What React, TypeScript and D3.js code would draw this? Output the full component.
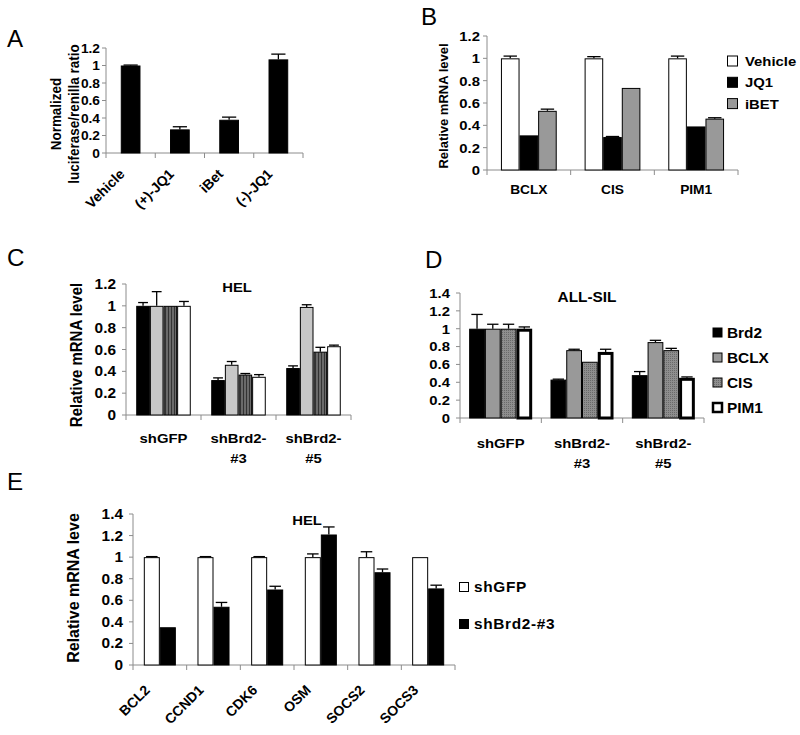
import React from 'react';
import * as d3 from 'd3';

// ---------- DATA ----------
const aCategories = ['Vehicle', '(+)-JQ1', 'iBet', '(-)-JQ1'];
const aValues = [1.0, 0.27, 0.38, 1.07];
const aErrors = [0.005, 0.03, 0.03, 0.06];
const aTicks = [0, 0.2, 0.4, 0.6, 0.8, 1, 1.2];

const bCategories = ['BCLX', 'CIS', 'PIM1'];
const bSeriesNames = ['Vehicle', 'JQ1', 'iBET'];
const bVehicle = [1.0, 1.0, 1.0];
const bVehicleErr = [0.02, 0.015, 0.02];
const bJQ1 = [0.31, 0.295, 0.39];
const bJQ1Err = [0, 0.005, 0];
const bIBET = [0.53, 0.735, 0.46];
const bIBETErr = [0.015, 0, 0.008];
const bTicks = [0, 0.2, 0.4, 0.6, 0.8, 1, 1.2];

const cCategories = [['shGFP'], ['shBrd2-', '#3'], ['shBrd2-', '#5']];
const cSeries1 = [1.0, 0.32, 0.43];
const cSeries1Err = [0.03, 0.02, 0.02];
const cSeries2 = [1.0, 0.46, 0.99];
const cSeries2Err = [0.13, 0.03, 0.02];
const cSeries3 = [1.0, 0.37, 0.58];
const cSeries3Err = [0, 0.01, 0.04];
const cSeries4 = [1.0, 0.35, 0.63];
const cSeries4Err = [0.04, 0.02, 0.01];
const cTicks = [0, 0.2, 0.4, 0.6, 0.8, 1, 1.2];

const dCategories = [['shGFP'], ['shBrd2-', '#3'], ['shBrd2-', '#5']];
const dSeriesNames = ['Brd2', 'BCLX', 'CIS', 'PIM1'];
const dBrd2 = [1.0, 0.43, 0.48];
const dBrd2Err = [0.16, 0.005, 0.04];
const dBCLX = [1.0, 0.76, 0.85];
const dBCLXErr = [0.05, 0.01, 0.02];
const dCIS = [1.0, 0.63, 0.76];
const dCISErr = [0.05, 0, 0.02];
const dPIM1 = [1.0, 0.74, 0.45];
const dPIM1Err = [0.02, 0.03, 0.01];
const dTicks = [0, 0.2, 0.4, 0.6, 0.8, 1, 1.2, 1.4];

const eCategories = ['BCL2', 'CCND1', 'CDK6', 'OSM', 'SOCS2', 'SOCS3'];
const eSeriesNames = ['shGFP', 'shBrd2-#3'];
const eShGFP = [1.0, 1.0, 1.0, 1.0, 1.0, 1.0];
const eShGFPErr = [0.005, 0.005, 0.005, 0.03, 0.05, 0];
const eShBrd2 = [0.35, 0.54, 0.70, 1.21, 0.86, 0.71];
const eShBrd2Err = [0, 0.04, 0.03, 0.07, 0.03, 0.03];
const eTicks = [0, 0.2, 0.4, 0.6, 0.8, 1, 1.2, 1.4];

// ---------- STYLE ----------
const FONT = '"Liberation Sans", Arial, Helvetica, sans-serif';
const SX = 1.1;
const AXIS = '#8c8c8c';

type Series = { values: number[]; errors: number[]; fill: string; stroke?: string; strokeWidth?: number };

type PanelProps = {
  x0: number; xEnd: number; y0: number; yTop: number; yMax: number;
  ticks: number[]; tickFont: number; tickGap: number;
  categories: string[]; series: Series[]; groupFrac: number;
};

const fmt = (v: number) => String(+v.toFixed(1));

function T({ x, y, size, anchor = 'start', children, rotate = 0, weight = 'bold', sx = SX, ls = 0 }: any) {
  const tr = rotate ? `translate(${x},${y}) scale(${sx},1) rotate(${rotate})` : `translate(${x},${y}) scale(${sx},1)`;
  return (
    <text transform={tr} fontFamily={FONT} fontSize={size} fontWeight={weight} textAnchor={anchor} fill="#000" letterSpacing={ls}>
      {children}
    </text>
  );
}

function useScales(p: PanelProps) {
  const y = d3.scaleLinear().domain([0, p.yMax]).range([p.y0, p.yTop]);
  const x = d3.scaleBand<string>().domain(p.categories).range([p.x0, p.xEnd]).padding(0);
  const groupW = x.bandwidth() * p.groupFrac;
  const inner = d3.scaleBand<string>().domain(p.series.map((_, i) => String(i))).range([0, groupW]).padding(0);
  return { x, y, inner, groupW };
}

function Panel(p: PanelProps) {
  const { x, y, inner, groupW } = useScales(p);
  const bw = inner.bandwidth();
  const bounds = [...p.categories.map((c) => x(c) as number), p.xEnd];
  return (
    <g>
      <line x1={p.x0} x2={p.x0} y1={p.y0} y2={y(p.ticks[p.ticks.length - 1])} stroke={AXIS} strokeWidth={1} />
      {p.ticks.map((t) => (
        <g key={t}>
          <line x1={p.x0 - 4} x2={p.x0} y1={y(t)} y2={y(t)} stroke={AXIS} />
          <T x={p.x0 - p.tickGap} y={y(t) + p.tickFont * 0.36} size={p.tickFont} anchor="end">{fmt(t)}</T>
        </g>
      ))}
      <line x1={p.x0} x2={p.xEnd} y1={p.y0} y2={p.y0} stroke={AXIS} />
      {bounds.map((b, i) => (
        <line key={i} x1={b} x2={b} y1={p.y0} y2={p.y0 + 5} stroke={AXIS} />
      ))}
      {p.categories.map((c, ci) => {
        const gx = (x(c) as number) + (x.bandwidth() - groupW) / 2;
        return (
          <g key={c}>
            {p.series.map((s, si) => {
              const bx = gx + (inner(String(si)) as number);
              const v = s.values[ci];
              const sw = s.strokeWidth ?? 1;
              return (
                <rect key={si} x={bx + sw / 2} y={y(v) + sw / 2} width={bw - sw} height={p.y0 - y(v) - sw / 2}
                  fill={s.fill} stroke={s.stroke ?? '#000'} strokeWidth={sw} />
              );
            })}
            {p.series.map((s, si) => {
              const e = s.errors[ci];
              if (!e) return null;
              const cx = gx + (inner(String(si)) as number) + bw / 2;
              const v = s.values[ci];
              const cap = bw * 0.36;
              return (
                <g key={'e' + si} stroke="#000" strokeWidth={1.3}>
                  <line x1={cx} x2={cx} y1={y(v)} y2={y(v + e)} />
                  <line x1={cx - cap} x2={cx + cap} y1={y(v + e)} y2={y(v + e)} />
                </g>
              );
            })}
          </g>
        );
      })}
    </g>
  );
}

function center(p: PanelProps, c: string) {
  const x = d3.scaleBand<string>().domain(p.categories).range([p.x0, p.xEnd]);
  return (x(c) as number) + x.bandwidth() / 2;
}

export default function App() {
  const pA: PanelProps = {
    x0: 106, xEnd: 303, y0: 153, yTop: 48, yMax: 1.2, ticks: aTicks, tickFont: 12.5, tickGap: 6,
    categories: aCategories, groupFrac: 0.4,
    series: [{ values: aValues, errors: aErrors, fill: '#000' }],
  };
  const pB: PanelProps = {
    x0: 487, xEnd: 738, y0: 170, yTop: 36, yMax: 1.2, ticks: bTicks, tickFont: 13.5, tickGap: 7,
    categories: bCategories, groupFrac: 3 / 4.5,
    series: [
      { values: bVehicle, errors: bVehicleErr, fill: '#fff' },
      { values: bJQ1, errors: bJQ1Err, fill: '#000' },
      { values: bIBET, errors: bIBETErr, fill: '#999' },
    ],
  };
  const cKeys = cCategories.map((c) => c.join(' '));
  const pC: PanelProps = {
    x0: 126, xEnd: 351, y0: 415, yTop: 284, yMax: 1.2, ticks: cTicks, tickFont: 14, tickGap: 10,
    categories: cKeys, groupFrac: 4 / 5.5,
    series: [
      { values: cSeries1, errors: cSeries1Err, fill: '#000' },
      { values: cSeries2, errors: cSeries2Err, fill: '#c8c8c8' },
      { values: cSeries3, errors: cSeries3Err, fill: 'url(#cStripe)' },
      { values: cSeries4, errors: cSeries4Err, fill: '#fff' },
    ],
  };
  const dKeys = dCategories.map((c) => c.join(' '));
  const pD: PanelProps = {
    x0: 460, xEnd: 704, y0: 418, yTop: 293, yMax: 1.4, ticks: dTicks, tickFont: 13.5, tickGap: 10,
    categories: dKeys, groupFrac: 0.775,
    series: [
      { values: dBrd2, errors: dBrd2Err, fill: '#000' },
      { values: dBCLX, errors: dBCLXErr, fill: '#999' },
      { values: dCIS, errors: dCISErr, fill: 'url(#dDots)' },
      { values: dPIM1, errors: dPIM1Err, fill: '#fff', strokeWidth: 3 },
    ],
  };
  const pE: PanelProps = {
    x0: 133, xEnd: 455, y0: 665, yTop: 514, yMax: 1.4, ticks: eTicks, tickFont: 14, tickGap: 10,
    categories: eCategories, groupFrac: 2 / 3.35,
    series: [
      { values: eShGFP, errors: eShGFPErr, fill: '#fff' },
      { values: eShBrd2, errors: eShBrd2Err, fill: '#000' },
    ],
  };

  return (
    <svg width={800} height={735} style={{ position: 'absolute', left: 0, top: 0, background: '#fff' }}>
      <defs>
        <pattern id="cStripe" width={3} height={4} patternUnits="userSpaceOnUse">
          <rect width={3} height={4} fill="#6a6a6a" />
          <rect width={1} height={4} fill="#333" />
        </pattern>
        <pattern id="dDots" width={2} height={2} patternUnits="userSpaceOnUse">
          <rect width={2} height={2} fill="#8e8e8e" />
          <rect width={1} height={1} fill="#6a6a6a" />
        </pattern>
      </defs>
      <rect width={800} height={735} fill="#fff" />

      {/* Panel letters */}
      <T x={7} y={47} size={23} weight="normal" sx={1.05}>A</T>
      <T x={421} y={25} size={23} weight="normal" sx={1.05}>B</T>
      <T x={7} y={266} size={23} weight="normal" sx={1.05}>C</T>
      <T x={425} y={268} size={23} weight="normal" sx={1.05}>D</T>
      <T x={7} y={490} size={23} weight="normal" sx={1.05}>E</T>

      {/* Panel A */}
      <Panel {...pA} />
      <T x={61} y={114} size={13.5} anchor="middle" rotate={-90} sx={1.05}>Normalized</T>
      <T x={79} y={114} size={13.5} anchor="middle" rotate={-90} sx={1.05}>luciferase/renilla ratio</T>
      {aCategories.map((c) => (
        <T key={c} x={center(pA, c) - 5} y={pA.y0 + 22} size={14} anchor="end" rotate={-45} sx={1}>{c}</T>
      ))}

      {/* Panel B */}
      <Panel {...pB} />
      <T x={448} y={106} size={13} anchor="middle" rotate={-90} sx={1.05}>Relative mRNA level</T>
      {bCategories.map((c) => (
        <T key={c} x={center(pB, c)} y={194} size={12.5} anchor="middle">{c}</T>
      ))}
      {bSeriesNames.map((n, i) => (
        <g key={n}>
          <rect x={727.5} y={56 + i * 21.3} width={10} height={10} fill={pB.series[i].fill} stroke="#000" />
          <T x={745} y={66 + i * 21.3} size={13.5}>{n}</T>
        </g>
      ))}

      {/* Panel C */}
      <Panel {...pC} />
      <T x={237} y={292} size={13.5} anchor="middle">HEL</T>
      <T x={82} y={355} size={15} anchor="middle" rotate={-90} sx={1.05}>Relative mRNA level</T>
      {cCategories.map((c, i) => (
        <g key={i}>
          {c.map((line, li) => (
            <T key={li} x={center(pC, cKeys[i])} y={443 + li * 20} size={13.5} anchor="middle">{line}</T>
          ))}
        </g>
      ))}

      {/* Panel D */}
      <Panel {...pD} />
      <T x={587} y={302} size={14} anchor="middle">ALL-SIL</T>
      {dCategories.map((c, i) => (
        <g key={i}>
          {c.map((line, li) => (
            <T key={li} x={center(pD, dKeys[i])} y={448 + li * 20} size={13.5} anchor="middle">{line}</T>
          ))}
        </g>
      ))}
      {dSeriesNames.map((n, i) => (
        <g key={n}>
          <rect x={713} y={328 + i * 25} width={9} height={9} fill={pD.series[i].fill}
            stroke="#000" strokeWidth={i === 3 ? 2.5 : 1} />
          <T x={727} y={337.5 + i * 25} size={14}>{n}</T>
        </g>
      ))}

      {/* Panel E */}
      <Panel {...pE} />
      <T x={307} y={525} size={13.5} anchor="middle">HEL</T>
      <T x={79} y={588} size={16} anchor="middle" rotate={-90} sx={1.05}>Relative mRNA leve</T>
      {eCategories.map((c) => (
        <T key={c} x={center(pE, c) - 9} y={pE.y0 + 26} size={14} anchor="end" rotate={-45} sx={1}>{c}</T>
      ))}
      {eSeriesNames.map((n, i) => (
        <g key={n}>
          <rect x={459.5} y={582.5 + i * 37} width={9} height={9} fill={pE.series[i].fill} stroke="#000" />
          <T x={474} y={592 + i * 37} size={14} ls={0.6}>{n}</T>
        </g>
      ))}
    </svg>
  );
}
